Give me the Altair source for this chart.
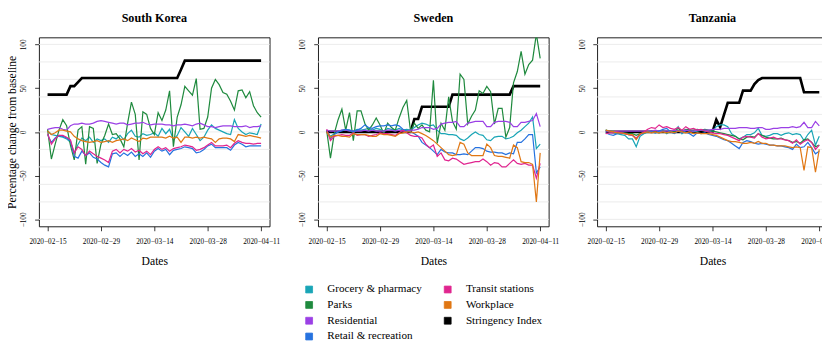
import altair as alt
import pandas as pd

# ---------------- categories / ticks ----------------
START_DATE = "2020-02-15"
N_DAYS = 57
DATES = pd.date_range(START_DATE, periods=N_DAYS, freq="D")
TICK_DAYS = [0, 14, 28, 42, 56]
TICK_LABELS = ["2020\u221202\u221215", "2020\u221202\u221229", "2020\u221203\u221214",
               "2020\u221203\u221228", "2020\u221204\u221211"]
Y_TICKS = [-100, -50, 0, 50, 100]
GRID_LINES = [-100, -80, -60, -40, -20, 0, 20, 40, 60, 80, 100]
COUNTRIES = ["South Korea", "Sweden", "Tanzania"]
SERIES = ["Grocery & pharmacy", "Parks", "Residential", "Retail & recreation",
          "Transit stations", "Workplace", "Stringency Index"]
COLORS = {
    "Grocery & pharmacy": "#19A5B6",
    "Parks": "#1F8A3E",
    "Residential": "#9B40E5",
    "Retail & recreation": "#2672DF",
    "Transit stations": "#E0258F",
    "Workplace": "#E07714",
    "Stringency Index": "#000000",
}

# ---------------- South Korea ----------------
KOR_GROCERY = [1, -3, -4, -5, -6, -8, -12, -24, -14, -7,
               -10, -6, -12, -8, -10, -8, -12, -6, -8, -4,
               -9, -2, 2, -5, -6, -2, -4, -3, -1, -5,
               4, -2, 3, -9, -4, 5, 0, -5, 4, -3,
               -10, -6, 2, 8, 4, 2, 0, -2, -3, 14,
               4, 0, -3, -1, -2, -3, 9]
KOR_PARKS = [3, -31, -14, 2, 14, 7, -15, -32, 2, 6,
             -37, 6, 4, -36, -14, -4, 9, -3, -2, -8,
             -17, 10, 34, 20, -32, 23, 20, 4, -3, 22,
             13, 25, 47, -17, 17, 31, 52, 47, 42, 61,
             3, 4, 17, 50, 60, 54, 45, 43, 35, 25,
             47, 48, 39, 46, 30, 22, 17]
KOR_RESIDENTIAL = [3, 4, 5, 5, 3, 2, 7, 9, 9, 10,
                   9, 9, 10, 12, 13, 12, 11, 10, 9, 10,
                   10, 8, 9, 10, 10, 11, 9, 8, 9, 9,
                   9, 8, 8, 7, 8, 8, 9, 8, 7, 9,
                   10, 8, 6, 6, 5, 6, 7, 7, 7, 6,
                   6, 6, 7, 5, 6, 6, 7]
KOR_RETAIL = [-3, -12, -7, -4, -5, -7, -10, -28, -30, -22,
              -27, -24, -29, -31, -35, -38, -40, -25, -24, -28,
              -24, -27, -23, -28, -25, -28, -24, -29, -22, -19,
              -22, -20, -26, -21, -20, -19, -17, -18, -19, -24,
              -23, -20, -16, -14, -18, -18, -18, -18, -21, -15,
              -12, -14, -17, -16, -16, -16, -16]
KOR_TRANSIT = [-2, -14, -8, -4, -4, -6, -9, -24, -17, -20,
               -27, -22, -25, -28, -30, -32, -35, -22, -20, -24,
               -20, -22, -19, -23, -21, -25, -22, -26, -20, -17,
               -20, -18, -22, -19, -18, -17, -15, -16, -17, -21,
               -20, -18, -15, -12, -16, -16, -16, -15, -18, -13,
               -10, -12, -13, -13, -14, -13, -13]
KOR_WORKPLACE = [1, -3, -1, 2, 2, 1, 0, -5, -8, -10,
                 -11, -12, -11, -10, -12, -11, -10, -12, -10, -9,
                 -8, -10, -7, -9, -11, -7, -8, -6, -6, -6,
                 -6, -7, -5, -7, -6, -12, -6, -6, -7, -6,
                 -7, -6, -7, -8, -12, -8, -7, -7, -8, -11,
                 -3, -4, -5, -4, -5, -6, -7]
KOR_STRINGENCY = [42.59, 42.59, 42.59, 42.59, 42.59, 42.59, 52.31, 52.31, 56.94, 61.57,
                  61.57, 61.57, 61.57, 61.57, 61.57, 61.57, 61.57, 61.57, 61.57, 61.57,
                  61.57, 61.57, 61.57, 61.57, 61.57, 61.57, 61.57, 61.57, 61.57, 61.57,
                  61.57, 61.57, 61.57, 61.57, 61.57, 71.30, 81.48, 81.48, 81.48, 81.48,
                  81.48, 81.48, 81.48, 81.48, 81.48, 81.48, 81.48, 81.48, 81.48, 81.48,
                  81.48, 81.48, 81.48, 81.48, 81.48, 81.48, 81.48]

# ---------------- Sweden ----------------
SWE_GROCERY = [1, -5, -2, 0, 2, 3, 2, 1, 3, 2,
               3, 4, 2, 4, 3, 1, 4, 3, 2, 4,
               2, 3, 2, 5, 8, 10, 9, 7, 8, 2,
               -2, -2, -3, -3, -4, -8, -10, -7, -3, 0,
               -3, -4, -9, -10, -6, -5, -5, -8, -7, -5,
               -1, 2, 6, 10, 17, -19, -14]
SWE_PARKS = [2, -30, -2, 14, 26, 2, 22, -10, 24, 24,
             10, 2, 8, 16, 8, -2, 10, 5, 2, 16,
             28, 36, 1, 10, 4, 8, 2, 0, 59, -13,
             10, 2, 40, 12, 3, 66, 60, 9, 18, 25,
             47, 44, 52, 46, 9, 27, 27, -6, 5, 56,
             69, 92, 66, 77, 82, 112, 84]
SWE_RESIDENTIAL = [2, 1, 1, 1, 2, 2, 1, 1, 1, 1,
                   2, 1, 2, 1, 1, 1, 2, 2, 1, 2,
                   1, 1, 2, 2, 3, 5, 5, 5, 3, 4,
                   9, 10, 11, 11, 12, 6, 6, 10, 11, 12,
                   12, 12, 6, 6, 11, 12, 12, 12, 11, 6,
                   6, 11, 11, 12, 13, 21, 6]
SWE_RETAIL = [2, -8, -3, 0, 1, 3, 2, 0, 2, 4,
              8, 5, 4, 6, 7, 7, 8, 7, 8, 7,
              3, 1, 0, -2, -5, -12, -15, -18, -22, -26,
              -20, -23, -24, -24, -26, -26, -25, -26, -22, -18,
              -18, -19, -22, -23, -23, -24, -24, -26, -24, -25,
              -12, -12, -8, -3, -3, -47, -40]
SWE_TRANSIT = [3, -10, -5, -4, -3, -4, -4, -1, -4, -3,
               -3, -5, -4, -3, -1, -2, -2, -3, -4, -1,
               2, -1, -4, -5, -5, -7, -14, -18, -15, -28,
               -24, -32, -33, -30, -31, -34, -37, -36, -35, -34,
               -34, -31, -34, -38, -35, -36, -40, -40, -36, -32,
               -36, -37, -36, -38, -38, -53, -36]
SWE_WORKPLACE = [0, -6, -4, -4, -5, -5, -6, -2, -3, -3,
                 -3, -4, -5, -5, -2, -3, -3, -4, -5, -2,
                 -1, 0, 0, -1, 0, -2, -4, -7, -10, -14,
                 -18, -22, -26, -27, -26, -12, -14, -24, -27, -27,
                 -27, -27, -14, -18, -27, -28, -28, -29, -30, -15,
                 -18, -34, -35, -35, -37, -80, -24]
SWE_STRINGENCY = [0, 0, 0, 0, 0, 0, 0, 0, 0, 0,
                  0, 0, 0, 0, 0, 0, 0, 0, 0, 0,
                  0, 0, 0, 14.81, 14.81, 28.70, 28.70, 28.70, 28.70, 28.70,
                  28.70, 28.70, 28.70, 42.59, 42.59, 42.59, 42.59, 42.59, 42.59, 42.59,
                  42.59, 42.59, 42.59, 42.59, 42.59, 42.59, 42.59, 42.59, 42.59, 52.31,
                  52.31, 52.31, 52.31, 52.31, 52.31, 52.31, 52.31]

# ---------------- Tanzania ----------------
TZA_GROCERY = [2, 0, -1, -2, -3, -4, -8, -8, -17, -5,
               -2, 0, 1, -1, 0, 2, -2, 1, 0, 6,
               -2, 2, 3, 0, 1, 2, 1, 0, 1, 6,
               8, 8, 6, -2, -5, -8, -6, -3, -3, -1,
               4, -4, -5, -4, -2, -2, -4, -2, -1, -3,
               -2, -3, -10, -3, 2, -15, -5]
TZA_PARKS = [2, 1, 0, 0, -1, -1, -2, -2, -4, -2,
             -1, 0, 1, 0, -1, 1, -1, 1, 0, 4,
             1, 3, 2, 2, 3, 2, 3, 2, 1, 0,
             -1, -2, -3, -4, -5, -8, -9, -6, -5, -6,
             -2, -4, -6, -7, -8, -8, -7, -9, -10, -12,
             -11, -13, -9, -8, -12, -17, -15]
TZA_RESIDENTIAL = [1, 1, 0, 1, 1, 1, 1, 1, 1, 1,
                   1, 1, 1, 2, 1, 1, 1, 1, 2, 1,
                   1, 2, 1, 1, 2, 2, 2, 2, 3, 3,
                   3, 4, 4, 4, 4, 5, 5, 5, 4, 4,
                   5, 5, 3, 3, 4, 4, 5, 5, 5, 6,
                   5, 6, 11, 5, 5, 12, 7]
TZA_RETAIL = [-1, -3, -4, -2, -1, -2, -3, -4, -8, -3,
              -1, 0, 0, -1, 1, 3, 4, 0, -2, 1,
              -1, 0, -2, -5, -1, -2, -1, -3, -4, -5,
              -7, -9, -10, -13, -16, -19, -12, -10, -11, -13,
              -14, -13, -14, -15, -15, -16, -16, -17, -18, -20,
              -14, -18, -17, -12, -18, -25, -22]
TZA_TRANSIT = [-2, -1, -1, 0, -1, -2, -3, -4, -7, -3,
               0, 3, 5, 4, 8, 5, 6, 4, 3, 5,
               2, 6, 3, 4, 2, 3, 1, 0, -1, -2,
               -2, -3, -4, -6, -8, -10, -6, -5, -6, -7,
               -2, -6, -8, -7, -6, -8, -8, -9, -10, -13,
               -9, -14, -11, -9, -12, -20, -15]
TZA_WORKPLACE = [2, 1, 0, -1, -1, -2, -3, -3, -9, -2,
                 -1, 0, -1, 0, -1, 0, -1, 0, -1, 1,
                 0, -1, 0, -2, -1, -2, -2, -2, -3, -4,
                 -6, -8, -10, -11, -11, -12, -13, -13, -12, -13,
                 -11, -13, -13, -15, -15, -16, -16, -16, -17, -18,
                 -17, -18, -44, -17, -18, -46, -20]
TZA_STRINGENCY = [0, 0, 0, 0, 0, 0, 0, 0, 0, 0,
                  0, 0, 0, 0, 0, 0, 0, 0, 0, 0,
                  0, 0, 0, 0, 0, 0, 0, 0, 0, 13.89,
                  5.56, 19.44, 33.33, 33.33, 33.33, 33.33, 47.22, 47.22, 47.22, 54.63,
                  59.26, 61.57, 61.57, 61.57, 61.57, 61.57, 61.57, 61.57, 61.57, 61.57,
                  61.57, 61.57, 45.37, 45.37, 45.37, 45.37, 45.37]

DATA = {
    "South Korea": [KOR_GROCERY, KOR_PARKS, KOR_RESIDENTIAL, KOR_RETAIL,
                    KOR_TRANSIT, KOR_WORKPLACE, KOR_STRINGENCY],
    "Sweden": [SWE_GROCERY, SWE_PARKS, SWE_RESIDENTIAL, SWE_RETAIL,
               SWE_TRANSIT, SWE_WORKPLACE, SWE_STRINGENCY],
    "Tanzania": [TZA_GROCERY, TZA_PARKS, TZA_RESIDENTIAL, TZA_RETAIL,
                 TZA_TRANSIT, TZA_WORKPLACE, TZA_STRINGENCY],
}

rows = []
for country in COUNTRIES:
    for s_idx, (name, vals) in enumerate(zip(SERIES, DATA[country])):
        assert len(vals) == N_DAYS, (country, name, len(vals))
        for i, v in enumerate(vals):
            rows.append({"country": country, "series": name, "order": s_idx,
                         "day": i, "date": DATES[i].strftime("%Y-%m-%d"), "value": v})
df = pd.DataFrame(rows)
grid_df = pd.DataFrame({"g": GRID_LINES})

FONT = "Liberation Serif"
W, H = 238, 195
x_pad = (N_DAYS - 1) * 0.04
x_scale = alt.Scale(domain=[-x_pad, N_DAYS - 1 + x_pad], nice=False, zero=False)
y_scale = alt.Scale(domain=[-108, 108], nice=False, zero=False)
# legend fills column by column: first four entries, then the last three
color_scale = alt.Scale(domain=SERIES, range=[COLORS[s] for s in SERIES])
label_expr = " : ".join(
    f"datum.value == {d} ? '{lab}'" for d, lab in zip(TICK_DAYS, TICK_LABELS)) + " : ''"

legend = alt.Legend(title=None, orient="none", legendX=273, legendY=254, columns=2,
                    symbolType="square", symbolSize=50, symbolStrokeColor="black",
                    symbolStrokeWidth=0.8, symbolOpacity=1, labelFont=FONT,
                    labelFontSize=11.5, labelColor="black", labelOffset=13,
                    rowPadding=3.3, columnPadding=20, labelLimit=300)


def panel(country, first):
    sub = df[df.country == country]
    y_axis = alt.Axis(values=Y_TICKS, labelAngle=-90, labelAlign="center",
                      labelBaseline="bottom", labelPadding=7,
                      title="Percentage change from baseline" if first else None,
                      titlePadding=2)
    x_axis = alt.Axis(values=TICK_DAYS, labelExpr=label_expr, labelFlush=False,
                      labelOverlap=False, labelPadding=7, title="Dates",
                      titlePadding=11)
    x_enc = alt.X("day:Q", scale=x_scale, axis=x_axis)
    y_enc = alt.Y("value:Q", scale=y_scale, axis=y_axis)
    grid = alt.Chart(grid_df).mark_rule(color="#EBEBEB", strokeWidth=1).encode(
        y=alt.Y("g:Q", scale=y_scale, axis=y_axis))
    si = alt.Chart(sub[sub.series == "Stringency Index"]).mark_line(
        strokeWidth=2.7, clip=True).encode(
        x=x_enc, y=y_enc,
        color=alt.Color("series:N", scale=color_scale, legend=None))
    mob = alt.Chart(sub[sub.series != "Stringency Index"]).mark_line(
        strokeWidth=1.25, clip=True).encode(
        x=x_enc, y=y_enc,
        color=alt.Color("series:N", scale=color_scale, legend=None),
        detail="series:N")
    layers = [grid, si, mob]
    if first:
        # legend carrier (no visible marks): placed first so its legend wins the merge
        key = alt.Chart(sub).transform_filter("datum.day < 0").mark_square(
            filled=True, opacity=1, size=50).encode(
            x=x_enc, y=y_enc,
            color=alt.Color("series:N", scale=color_scale, legend=legend))
        layers = [key] + layers
    return alt.layer(*layers).properties(
        width=W, height=H,
        title=alt.TitleParams(text=country, font=FONT, fontSize=12.5,
                              fontWeight="bold", color="black", anchor="middle",
                              offset=13))


chart = alt.hconcat(
    panel(COUNTRIES[0], True), panel(COUNTRIES[1], False), panel(COUNTRIES[2], False),
    spacing=19,
).properties(
    padding={"left": -3, "top": -1, "right": -17, "bottom": -3.5}
).configure_view(
    stroke="black", strokeWidth=0.9
).configure_axis(
    domain=False, grid=False, tickColor="black", tickWidth=0.8, tickSize=4.5,
    labelFont=FONT, labelFontSize=7.5, labelColor="black",
    titleFont=FONT, titleFontSize=12, titleFontWeight="normal", titleColor="black",
)

chart.save("out.html", embed_options={"renderer": "svg", "actions": False})
